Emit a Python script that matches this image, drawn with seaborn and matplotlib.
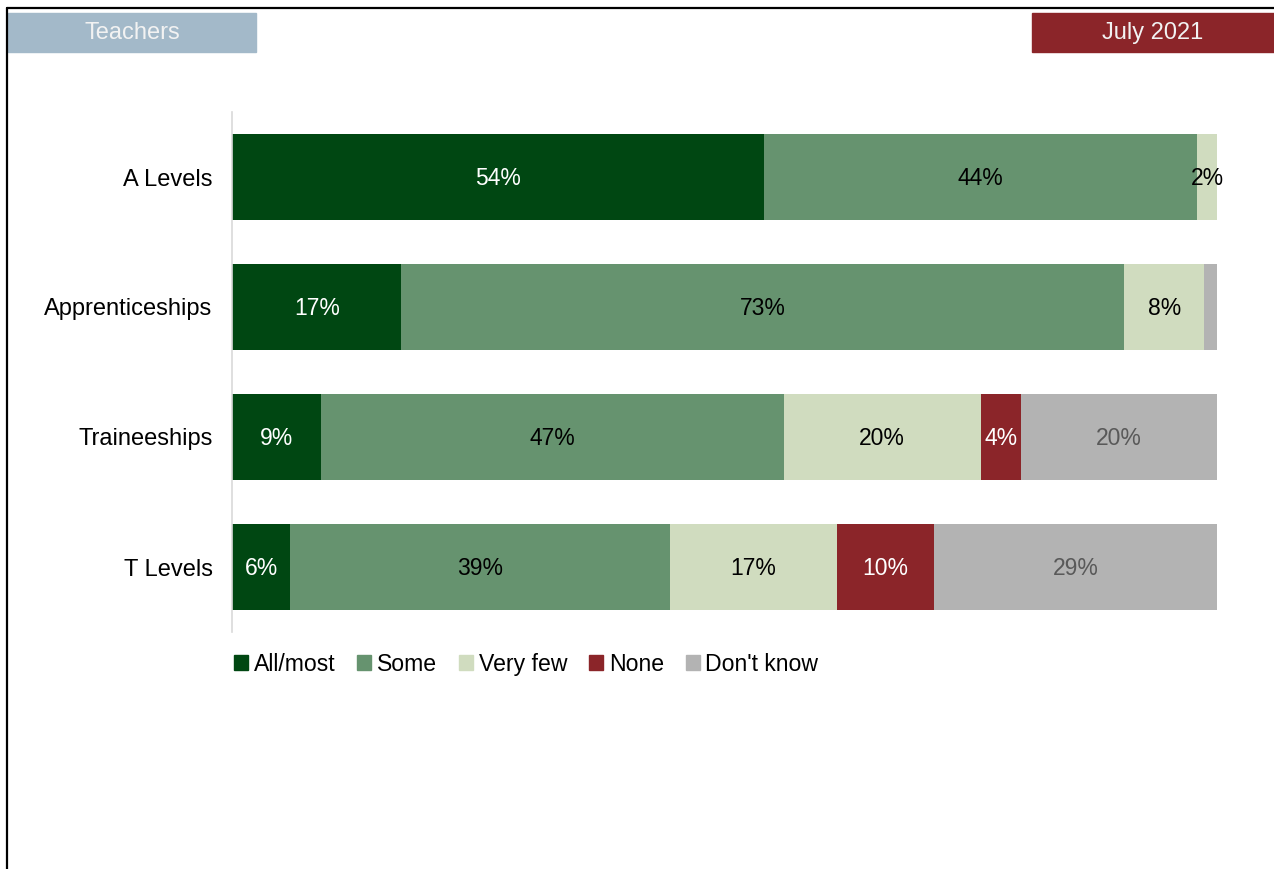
import matplotlib
matplotlib.use("Agg")
import matplotlib.pyplot as plt
import seaborn as sns
import numpy as np
import pandas as pd
from matplotlib.patches import Rectangle
from matplotlib.lines import Line2D

categories = ["A Levels", "Apprenticeships", "Traineeships", "T Levels"]
series = ["All/most", "Some", "Very few", "None", "Don't know"]
all_most = [54, 17.2, 9, 5.9]
some = [44, 73.4, 47, 38.6]
very_few = [2, 8.1, 20, 16.9]
none = [0, 0, 4.1, 9.9]
dont_know = [0, 1.3, 19.9, 28.7]

colors = ["#004712", "#66936f", "#d0dcbf", "#8b2529", "#b3b3b3"]
label_colors = ["white", "black", "black", "white", "#595959"]

sns.set_theme(style="white")
plt.rcParams['font.family'] = ['Liberation Sans', 'DejaVu Sans']
plt.rcParams['text.color'] = 'black'

fig = plt.figure(figsize=(12.74, 8.69), dpi=100)
ax = fig.add_axes([232/1274, 1 - 632/869, 985/1274, 520/869])

vals = np.array([all_most, some, very_few, none, dont_know])
cum = np.cumsum(vals, axis=0)

for i in range(len(series) - 1, -1, -1):
    df = pd.DataFrame({"cat": categories, "val": cum[i]})
    sns.barplot(data=df, x="val", y="cat", orient="h", color=colors[i],
                saturation=1, width=0.654, ax=ax, order=categories,
                linewidth=0, edgecolor="none")

for i in range(len(series)):
    for j, c in enumerate(categories):
        v = vals[i, j]
        if v >= 1.5:
            ax.text(cum[i, j] - v / 2, j + 0.01, f"{round(v):.0f}%", ha="center", va="center",
                    fontsize=16.5, color=label_colors[i])

ax.set_xlim(0, 100)
ax.set_ylim(3.5, -0.5)
ax.set_xlabel("")
ax.set_ylabel("")
ax.set_xticks([])
ax.tick_params(axis="y", length=0, pad=14, labelsize=17, labelcolor="black")
for s in ["top", "right", "bottom"]:
    ax.spines[s].set_visible(False)
ax.spines["left"].set_color("#d9d9d9")
ax.spines["left"].set_linewidth(1.2)

handles = [Rectangle((0, 0), 1, 1, color=c) for c in colors]
leg = ax.legend(handles, series, loc="upper left", bbox_to_anchor=(-0.007, -0.022),
                ncol=5, frameon=False, fontsize=16.6, handlelength=0.6, handleheight=0.6,
                handletextpad=0.25, columnspacing=0.95, borderaxespad=0)
for t in leg.get_texts():
    t.set_color("black")

# header boxes
fig.patches.append(Rectangle((8/1274, 1 - 52/869), 248/1274, 39/869,
                             transform=fig.transFigure, color="#a3b9c9", zorder=1))
fig.patches.append(Rectangle((1032/1274, 1 - 52/869), 242/1274, 39/869,
                             transform=fig.transFigure, color="#8b2529", zorder=1))
fig.text(132/1274, 1 - 33/869, "Teachers", ha="center", va="center",
         fontsize=17, color="#f2f2f2")
fig.text(1153/1274, 1 - 33/869, "July 2021", ha="center", va="center",
         fontsize=17, color="#f2f2f2")

# frame lines
fig.add_artist(Line2D([7/1274, 1], [1 - 8/869, 1 - 8/869], transform=fig.transFigure,
                      color="black", linewidth=1.6))
fig.add_artist(Line2D([7/1274, 7/1274], [0, 1 - 8/869], transform=fig.transFigure,
                      color="black", linewidth=1.6))

fig.savefig("out.png", dpi=100, facecolor="white")
